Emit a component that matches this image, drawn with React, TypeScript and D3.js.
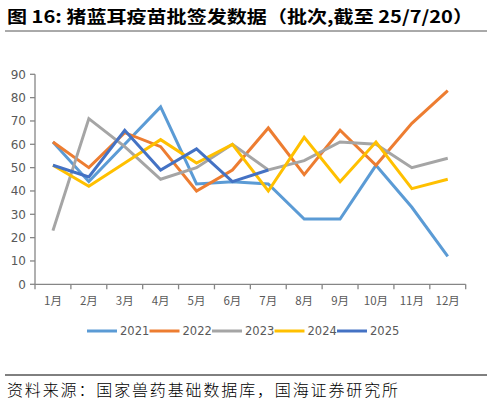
import React from "react";
import * as d3 from "d3";

const months = ["1月", "2月", "3月", "4月", "5月", "6月", "7月", "8月", "9月", "10月", "11月", "12月"];
const yTicks = [0, 10, 20, 30, 40, 50, 60, 70, 80, 90];

const s2021 = [61, 44, 60, 76, 43, 44, 43, 28, 28, 51, 33, 12];
const s2022 = [61, 50, 65, 59, 40, 49, 67, 47, 66, 51, 69, 83];
const s2023 = [23, 71, 59, 45, 50, 60, 49, 53, 61, 60, 50, 54];
const s2024 = [51, 42, 52, 62, 52, 60, 40, 63, 44, 61, 41, 45];
const s2025 = [51, 46, 66, 49, 58, 44, 49];

const seriesNames = ["2021", "2022", "2023", "2024", "2025"];
const seriesColors = ["#5B9BD5", "#ED7D31", "#A5A5A5", "#FFC000", "#4472C4"];
const seriesData = [s2021, s2022, s2023, s2024, s2025];

export default function App() {
  const left = 35, right = 465.7, top = 74.3, bottom = 284.3;
  const x = d3.scaleBand<string>().domain(months).range([left, right]);
  const y = d3.scaleLinear().domain([0, 90]).range([bottom, top]);
  const line = d3
    .line<number>()
    .x((_, i) => (x(months[i]) as number) + x.bandwidth() / 2)
    .y((d) => y(d));

  const axisColor = "#868686";
  const textColor = "#595959";
  const legendX = [87, 149.5, 212, 274.5, 337];

  return (
    <svg
      width={492}
      height={406}
      style={{ position: "absolute", left: 0, top: 0, background: "#fff" }}
      fontFamily="'Noto Sans CJK SC', sans-serif"
    >
      <text x={7} y={23} fontSize={17} fontWeight="bold" fill="#000" textLength={466} lengthAdjust="spacingAndGlyphs">
        图 16: 猪蓝耳疫苗批签发数据（批次,截至 25/7/20）
      </text>
      <line x1={5} x2={487} y1={31} y2={31} stroke="#555" strokeWidth={1} />

      {/* y axis */}
      <line x1={left} x2={left} y1={top} y2={bottom} stroke={axisColor} strokeWidth={1.3} />
      {yTicks.map((t) => (
        <g key={t}>
          <line x1={left - 5} x2={left} y1={y(t)} y2={y(t)} stroke={axisColor} strokeWidth={1.3} />
          <text x={26} y={y(t)} dy="0.35em" textAnchor="end" fontSize={12} fill={textColor} fontFamily="'DejaVu Sans', sans-serif">
            {t}
          </text>
        </g>
      ))}

      {/* x axis */}
      <line x1={left} x2={right} y1={bottom} y2={bottom} stroke={axisColor} strokeWidth={1.3} />
      {months.map((m) => (
        <line key={"t" + m} x1={x(m) as number} x2={x(m) as number} y1={bottom} y2={bottom + 5} stroke={axisColor} strokeWidth={1.3} />
      ))}
      <line x1={right} x2={right} y1={bottom} y2={bottom + 5} stroke={axisColor} strokeWidth={1.3} />
      {months.map((m) => (
        <text key={m} x={(x(m) as number) + x.bandwidth() / 2} y={305} textAnchor="middle" fontSize={11.5} fill={textColor}>
          {m}
        </text>
      ))}

      {/* lines */}
      {seriesData.map((d, i) => (
        <path key={seriesNames[i]} d={line(d) || ""} fill="none" stroke={seriesColors[i]} strokeWidth={3} strokeLinejoin="miter" />
      ))}

      {/* legend */}
      {seriesNames.map((n, i) => (
        <g key={"lg" + n}>
          <line x1={legendX[i]} x2={legendX[i] + 30} y1={331} y2={331} stroke={seriesColors[i]} strokeWidth={3} />
          <text x={legendX[i] + 33} y={331} dy="0.35em" fontSize={11.5} fill={textColor} fontFamily="'DejaVu Sans', sans-serif">
            {n}
          </text>
        </g>
      ))}

      <line x1={5} x2={487} y1={375} y2={375} stroke="#000" strokeWidth={1} />
      <text x={7} y={396} fontSize={16} fill="#000" textLength={391} lengthAdjust="spacing" fontWeight={300}>
        资料来源：国家兽药基础数据库，国海证券研究所
      </text>
    </svg>
  );
}
